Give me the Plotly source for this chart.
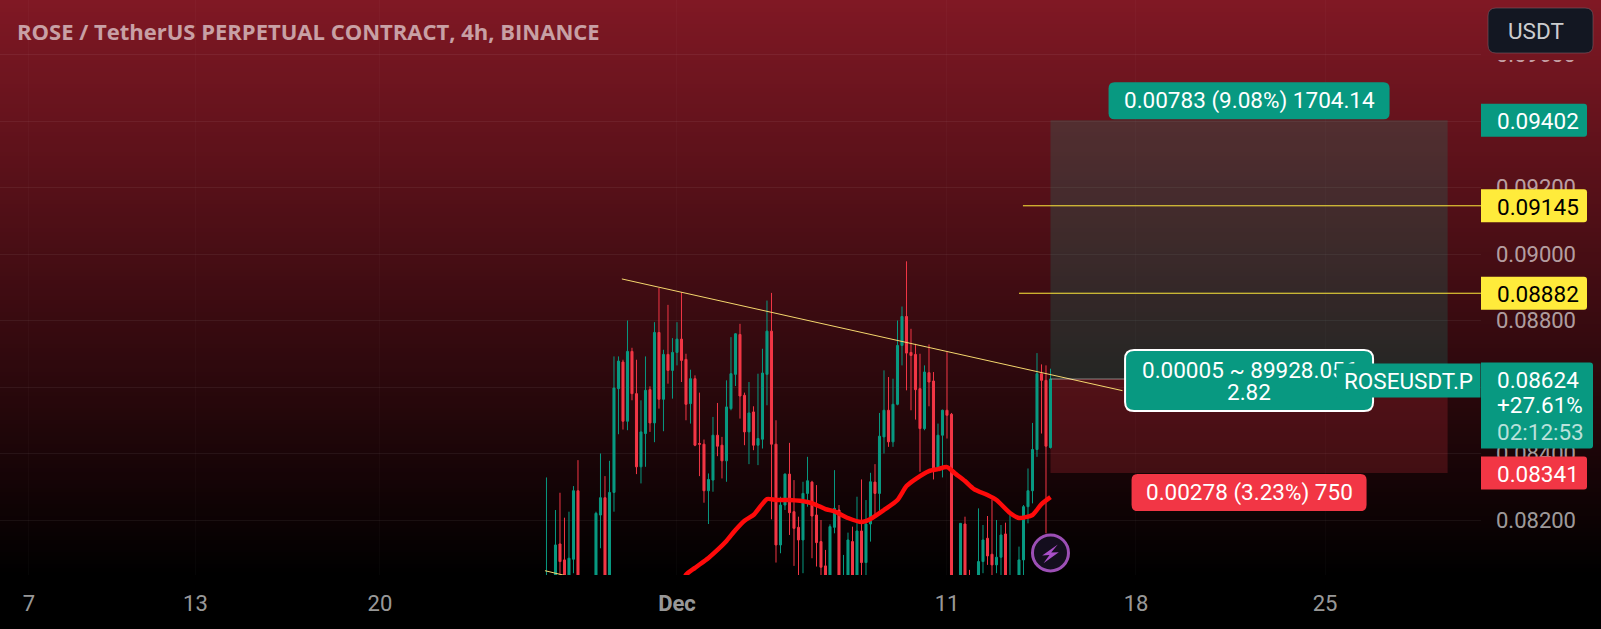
import pandas as pd
import plotly.graph_objects as go

TITLE = "ROSE / TetherUS PERPETUAL CONTRACT, 4h, BINANCE"
TEAL = "#089981"
RED = "#F23645"
YELLOW = "#FFEB3B"
TICK_COLOR = "rgba(255,255,255,0.62)"
FONT = "Roboto"

# prices are kept in ticks of 0.00001, last candle closes on Dec 14 20:00
last_bar = "2023-12-14 20:00"
tick_size = 0.00001

opens = [7900, 7990, 8000, 8128, 8080, 7980, 8082, 8288, 7970, 7900, 7940, 7990, 8215, 8267, 7980, 8283,
         8595, 8675, 8497, 8707, 8580, 8360, 8460, 8592, 8492, 8764, 8563, 8698, 8650, 8704, 8744, 8683,
         8550, 8625, 8430, 8428, 8288, 8320, 8455, 8425, 8378, 8535, 8638, 8758, 8575, 8465, 8525, 8425,
         8443, 8638, 8768, 8428, 8125, 8245, 8338, 8225, 8178, 8140, 8280, 8314, 8215, 8135, 8062, 7980,
         8178, 8230, 7960, 7970, 8135, 7990, 8167, 8072, 8188, 8314, 8280, 8450, 8530, 8435, 8548, 8725,
         8812, 8704, 8698, 8595, 8475, 8643, 8618, 8352, 8455, 8530, 8518, 7970, 7900, 8188, 8000, 7920,
         7980, 8075, 8145, 8097, 8065, 8088, 8158, 7990, 7990, 8000, 8080, 8240, 8288, 8412, 8640, 8620, 8418]
highs = [8328, 8000, 8230, 8282, 8207, 8225, 8302, 8380, 8020, 8010, 8025, 8225, 8400, 8332, 8378, 8692,
         8692, 8682, 8800, 8718, 8682, 8560, 8692, 8602, 8795, 8898, 8712, 8847, 8747, 8795, 8885, 8700,
         8652, 8635, 8583, 8442, 8340, 8510, 8552, 8450, 8620, 8750, 8762, 8790, 8583, 8615, 8542, 8640,
         8715, 8860, 8883, 8500, 8270, 8340, 8432, 8320, 8210, 8315, 8390, 8318, 8305, 8200, 8110, 8187,
         8350, 8245, 8095, 8162, 8180, 8270, 8322, 8260, 8342, 8368, 8522, 8650, 8630, 8625, 8800, 8842,
         8978, 8775, 8730, 8700, 8665, 8728, 8645, 8490, 8532, 8705, 8522, 8010, 8190, 8210, 8050, 8020,
         8235, 8185, 8212, 8262, 8200, 8185, 8192, 8215, 8030, 8120, 8245, 8355, 8492, 8702, 8668, 8665, 8655]
lows = [7850, 7900, 7950, 8000, 7950, 7950, 8040, 7920, 7850, 7820, 7850, 7960, 8115, 7950, 7950, 8225,
        8458, 8472, 8470, 8560, 8338, 8310, 8360, 8465, 8434, 8535, 8467, 8610, 8565, 8665, 8615, 8500,
        8490, 8422, 8332, 8252, 8188, 8285, 8392, 8325, 8315, 8530, 8603, 8505, 8425, 8368, 8410, 8365,
        8415, 8545, 8202, 8072, 8100, 8230, 8155, 8062, 8000, 8040, 8240, 8085, 8060, 8000, 7950, 7950,
        8160, 7920, 7900, 7940, 7960, 7960, 8000, 8000, 8135, 8215, 8225, 8400, 8420, 8420, 8545, 8665,
        8590, 8530, 8502, 8345, 8470, 8542, 8322, 8350, 8328, 8445, 7920, 7850, 7880, 7900, 7880, 7890,
        7950, 8040, 8065, 8000, 8040, 8010, 7960, 7960, 7950, 7970, 8000, 8190, 8250, 8390, 8460, 8160, 8415]
closes = [8030, 7950, 8125, 8075, 7980, 8085, 8288, 7980, 7900, 7940, 7990, 8220, 8267, 7980, 8283, 8597,
          8678, 8497, 8707, 8580, 8360, 8465, 8590, 8492, 8764, 8563, 8698, 8650, 8704, 8744, 8680, 8548,
          8625, 8425, 8428, 8288, 8322, 8455, 8422, 8378, 8540, 8640, 8760, 8573, 8465, 8522, 8425, 8445,
          8642, 8768, 8428, 8125, 8245, 8338, 8222, 8175, 8140, 8280, 8318, 8212, 8132, 8058, 7980, 8180,
          8235, 7980, 8025, 8140, 7990, 8167, 8072, 8188, 8315, 8280, 8452, 8530, 8435, 8548, 8725, 8812,
          8702, 8695, 8592, 8475, 8645, 8615, 8352, 8455, 8530, 8515, 7960, 7900, 8190, 7930, 7920, 7990,
          8075, 8140, 8092, 8065, 8088, 8155, 7990, 8025, 8015, 8080, 8240, 8288, 8412, 8640, 8620, 8422, 8624]

ma_times = ["2023-12-01 04:00", "2023-12-01 08:00", "2023-12-01 16:00", "2023-12-02 04:00", "2023-12-02 12:00",
            "2023-12-02 20:00", "2023-12-03 04:00", "2023-12-03 12:00", "2023-12-03 20:00", "2023-12-04 08:00",
            "2023-12-04 16:00", "2023-12-05 04:00", "2023-12-05 20:00", "2023-12-06 04:00", "2023-12-06 12:00",
            "2023-12-06 20:00", "2023-12-07 08:00", "2023-12-07 20:00", "2023-12-08 04:00", "2023-12-08 16:00",
            "2023-12-09 04:00", "2023-12-09 12:00", "2023-12-09 20:00", "2023-12-10 08:00", "2023-12-10 16:00",
            "2023-12-11 00:00", "2023-12-11 08:00", "2023-12-11 16:00", "2023-12-12 00:00", "2023-12-12 12:00",
            "2023-12-12 20:00", "2023-12-13 08:00", "2023-12-13 16:00", "2023-12-14 04:00", "2023-12-14 12:00",
            "2023-12-14 20:00"]
ma_values = [7990, 8035, 8056, 8086, 8110, 8137, 8170, 8198, 8215, 8263, 8260, 8260, 8254, 8245, 8233, 8226,
             8206, 8194, 8203, 8230, 8260, 8302, 8323, 8347, 8353, 8359, 8338, 8317, 8293, 8275, 8260, 8221,
             8206, 8215, 8248, 8269]

trend_times = ["2023-11-28 23:00", "2023-12-17 12:00"]
trend_prices = [0.08925, 0.08589]
old_trend_times = ["2023-11-26 02:40", "2023-11-27 05:20"]
old_trend_prices = [0.080475, 0.08026]

level_times = ["2023-12-13 19:30", "2023-12-13 16:00"]
level_prices = [0.09145, 0.08882]

target_price = 0.09402
entry_price = 0.08624
stop_price = 0.08341
box_start = "2023-12-14 20:00"
box_end = "2023-12-29 13:00"
marker_price = 0.08101

y_ticks = [0.082, 0.084, 0.086, 0.088, 0.090, 0.092, 0.094, 0.096]
x_ticks = ["2023-11-07", "2023-11-13 04:00", "2023-11-20", "2023-12-01", "2023-12-11", "2023-12-18", "2023-12-25"]
x_labels = ["7", "13", "20", "<b>Dec</b>", "11", "18", "25"]

x_range = ["2023-11-05 22:15", "2023-12-30 18:40"]
y_range = [0.080346, 0.097639]

WIDTH, HEIGHT = 1601, 629
PLOT_W, PLOT_H = 1481, 575

times = pd.date_range(end=last_bar, periods=len(opens), freq="4h")
box_mid = pd.Timestamp(box_start) + (pd.Timestamp(box_end) - pd.Timestamp(box_start)) / 2


def ticks_to_price(values):
    return [v * tick_size for v in values]


def box_path(x0, x1, y0, y1, left=0, right=0):
    # pixel offsets from the shape anchor, corners rounded with left / right
    return (f"M {x0 + left} {y0} L {x1 - right} {y0} Q {x1} {y0} {x1} {y0 + right} "
            f"L {x1} {y1 - right} Q {x1} {y1} {x1 - right} {y1} L {x0 + left} {y1} "
            f"Q {x0} {y1} {x0} {y1 - left} L {x0} {y0 + left} Q {x0} {y0} {x0 + left} {y0} Z")


def pixel_shape(path, x, y, xref, yref, fill, line=None, width=0):
    return dict(type="path", path=path, xref=xref, yref=yref, xsizemode="pixel", ysizemode="pixel",
                xanchor=x, yanchor=y, fillcolor=fill, line=dict(color=line or fill, width=width), layer="above")


def label(text, x, y, xref="x", yref="y", color="white", size=22.5, xanchor="center", xshift=0, yshift=0,
          family=FONT, **kw):
    return dict(text=text, x=x, y=y, xref=xref, yref=yref, showarrow=False, xanchor=xanchor, xshift=xshift,
                yshift=yshift, font=dict(family=family, size=size, color=color), **kw)


shapes = []

# background gradient, red on top fading to black at the time axis
band = 4
for top in range(0, PLOT_H, band):
    t = 1 - (top + band / 2) / PLOT_H
    color = f"rgb({round(128 * t)},{round(24 * t)},{round(36 * t)})"
    shapes.append(dict(type="rect", xref="paper", yref="paper", x0=0, x1=WIDTH / PLOT_W,
                       y0=1 - (top + band) / PLOT_H, y1=1 - top / PLOT_H, fillcolor=color,
                       line=dict(width=0), layer="below"))
    # the 0.096 label is hidden behind the currency button area
    if top < 57:
        shapes.append(dict(type="rect", xref="paper", yref="paper", x0=1, x1=WIDTH / PLOT_W,
                           y0=1 - (top + band) / PLOT_H, y1=1 - top / PLOT_H, fillcolor=color,
                           line=dict(width=0), layer="above"))

# long position tool
shapes.append(dict(type="rect", x0=box_start, x1=box_end, y0=entry_price, y1=target_price,
                   fillcolor="rgba(8,153,129,0.2)", line=dict(width=0), layer="between"))
shapes.append(dict(type="rect", x0=box_start, x1=box_end, y0=stop_price, y1=entry_price,
                   fillcolor="rgba(242,54,69,0.2)", line=dict(width=0), layer="between"))

# bubbles of the position tool
shapes.append(pixel_shape(box_path(-140.5, 140.5, 1, 38, 6, 6), box_mid, target_price, "x", "y", TEAL))
shapes.append(pixel_shape(box_path(-124, 124, -32, 29, 9, 9), box_mid, entry_price, "x", "y", TEAL, "white", 2))
shapes.append(pixel_shape(box_path(-117.5, 117.5, -38, -1, 6, 6), box_mid, stop_price, "x", "y", RED))

# price tags on the right axis
shapes.append(pixel_shape(box_path(0, 106, -16.5, 16.5, 0, 3), 1, target_price, "paper", "y", TEAL))
shapes.append(pixel_shape(box_path(0, 106, -16.5, 16.5, 0, 3), 1, level_prices[0], "paper", "y", YELLOW))
shapes.append(pixel_shape(box_path(0, 106, -16.5, 16.5, 0, 3), 1, level_prices[1], "paper", "y", YELLOW))
shapes.append(pixel_shape(box_path(0, 106, -16.5, 16.5, 0, 3), 1, stop_price, "paper", "y", RED))
shapes.append(pixel_shape(box_path(0, 112, -69.5, 16.5, 0, 3), 1, entry_price, "paper", "y", TEAL))

# currency button
shapes.append(dict(type="path", xref="paper", yref="paper", xsizemode="pixel", ysizemode="pixel",
                   xanchor=1, yanchor=1, path=box_path(7, 112, -53, -8, 8, 8), fillcolor="#131722",
                   line=dict(color="rgba(120,90,100,0.6)", width=1), layer="above"))

# lightning marker on the last bar
shapes.append(dict(type="circle", xref="x", yref="y", xsizemode="pixel", ysizemode="pixel",
                   xanchor=last_bar, yanchor=marker_price, x0=-18, x1=18, y0=-18, y1=18,
                   fillcolor="rgb(20,14,30)", line=dict(color="#9C4FB5", width=3), layer="above"))
shapes.append(pixel_shape("M 7.3 8.3 L -8.3 -2.7 L -1 -2 L -7 -10.3 L 8.3 0.7 L 0.7 0.3 Z",
                          last_bar, marker_price, "x", "y", "#A94FC8"))

annotations = [
    label(f"<b>{TITLE}</b>", 0, 1, xref="paper", yref="paper", color="rgba(255,255,255,0.6)", xanchor="left",
          xshift=15, yshift=-31, yanchor="middle", size=22, family="Open Sans"),
    label("USDT", 1, 1, xref="paper", yref="paper", color="rgba(255,255,255,0.8)", xanchor="left", xshift=25,
          yshift=-31, yanchor="middle", size=22.5),
    label("0.00783 (9.08%) 1704.14", box_mid, target_price, yshift=20),
    label("0.00278 (3.23%) 750", box_mid, stop_price, yshift=-19),
    label("0.00005 ~ 89928.056", box_mid, entry_price, yshift=9),
    label("2.82", box_mid, entry_price, yshift=-13),
    label("ROSEUSDT.P", 1, entry_price, xref="paper", xanchor="right", width=143, height=33, bgcolor=TEAL,
          borderpad=0, yshift=-1),
    label("0.09402", 1, target_price, xref="paper", xanchor="left", xshift=14, yshift=-1),
    label("0.09145", 1, level_prices[0], xref="paper", xanchor="left", xshift=14, yshift=-1, color="black"),
    label("0.08882", 1, level_prices[1], xref="paper", xanchor="left", xshift=14, yshift=-1, color="black"),
    label("0.08341", 1, stop_price, xref="paper", xanchor="left", xshift=14, yshift=-1),
    label("0.08624", 1, entry_price, xref="paper", xanchor="left", xshift=14, yshift=-1),
    label("+27.61%", 1, entry_price, xref="paper", xanchor="left", xshift=14, yshift=-26),
    label("02:12:53", 1, entry_price, xref="paper", xanchor="left", xshift=14, yshift=-53,
          color="rgba(255,255,255,0.72)"),
]

fig = go.Figure()
fig.add_trace(go.Candlestick(
    x=times, open=ticks_to_price(opens), high=ticks_to_price(highs), low=ticks_to_price(lows),
    close=ticks_to_price(closes), whiskerwidth=0,
    increasing=dict(line=dict(color=TEAL, width=1), fillcolor=TEAL),
    decreasing=dict(line=dict(color=RED, width=1), fillcolor=RED),
))
fig.add_trace(go.Scatter(x=ma_times, y=ticks_to_price(ma_values), mode="lines",
                         line=dict(color="#FF0A0A", width=4.5, shape="spline", smoothing=0.6)))
fig.add_trace(go.Scatter(x=trend_times, y=trend_prices, mode="lines", line=dict(color="#F5D76E", width=1)))
fig.add_trace(go.Scatter(x=old_trend_times, y=old_trend_prices, mode="lines", line=dict(color="#F5D76E", width=1)))
fig.add_trace(go.Scatter(x=[box_start, box_end], y=[entry_price, entry_price], mode="lines",
                         line=dict(color="rgba(255,255,255,0.45)", width=1)))
for start, price in zip(level_times, level_prices):
    fig.add_trace(go.Scatter(x=[start, x_range[1]], y=[price, price], mode="lines",
                             line=dict(color=YELLOW, width=1)))

fig.update_layout(
    width=WIDTH, height=HEIGHT, showlegend=False, hovermode=False,
    margin=dict(l=0, r=WIDTH - PLOT_W, t=0, b=HEIGHT - PLOT_H),
    paper_bgcolor="black", plot_bgcolor="rgba(0,0,0,0)",
    boxgap=0.35, shapes=shapes, annotations=annotations,
)
fig.update_xaxes(
    type="date", range=x_range, rangeslider_visible=False, tickmode="array", tickvals=x_ticks, ticktext=x_labels,
    tickfont=dict(family=FONT, size=22, color=TICK_COLOR), ticklabelstandoff=13, ticks="",
    showgrid=True, gridcolor="rgba(255,255,255,0.025)", zeroline=False, showline=False,
)
fig.update_yaxes(
    side="right", range=y_range, tickmode="array", tickvals=y_ticks, tickformat=".5f",
    tickfont=dict(family=FONT, size=22, color=TICK_COLOR), ticklabelstandoff=14, ticks="",
    showgrid=True, gridcolor="rgba(255,255,255,0.06)", zeroline=False, showline=False,
)

fig.write_html("out.html", config=dict(displayModeBar=False),
               post_script="document.body.style.margin='0';document.documentElement.style.overflow='hidden';")
